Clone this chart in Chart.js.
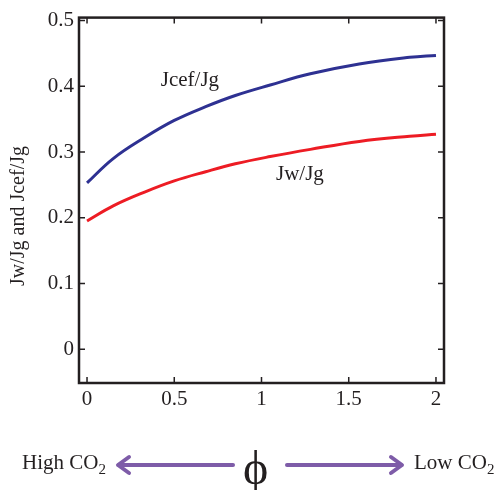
<!DOCTYPE html>
<html>
<head>
<meta charset="utf-8">
<script src="https://cdn.jsdelivr.net/npm/chart.js@4.4.1/dist/chart.umd.min.js"></script>
<style>
  body { margin: 0; background: #fff; }
  #wrap { position: relative; width: 498px; height: 490px; overflow: hidden; font-family: 'Liberation Serif', serif; }
  #bottom { position: absolute; left: 0; top: 440px; width: 498px; height: 50px; color: #231f20; }
  .lbl { position: absolute; font-size: 21px; white-space: nowrap; }
  .lbl sub { font-size: 15px; vertical-align: -5px; line-height: 0; }
  #phi { position: absolute; left: 243px; top: 3px; font-size: 48px; line-height: 50px; }
  svg { position: absolute; left: 0; top: 0; }
</style>
</head>
<body>
<div id="wrap">
  <canvas id="chart" width="498" height="490"></canvas>
  <div id="bottom">
    <svg width="498" height="50">
      <g stroke="#7e5ca8" stroke-width="4" fill="none" stroke-linecap="round" stroke-linejoin="round">
        <line x1="119" y1="25" x2="233" y2="25"/>
        <polyline points="129,17 118,25 129,33"/>
        <line x1="287" y1="25" x2="401" y2="25"/>
        <polyline points="391,17 402,25 391,33"/>
      </g>
    </svg>
    <span class="lbl" style="left:22px;top:10px">High CO<sub>2</sub></span>
    <span id="phi">ϕ</span>
    <span class="lbl" style="left:414px;top:10px">Low CO<sub>2</sub></span>
  </div>
</div>
<script>
// values
const phi = [0, 0.15, 0.33, 0.5, 0.68, 0.85, 1.05, 1.28, 1.56, 1.85, 2.0];
const jcefJg = [0.253, 0.290, 0.322, 0.348, 0.369, 0.386, 0.402, 0.419, 0.434, 0.444, 0.447];
const jwJg = [0.195, 0.218, 0.239, 0.256, 0.270, 0.282, 0.293, 0.304, 0.316, 0.324, 0.327];
const xTicks = [0, 0.5, 1, 1.5, 2];
const yTicks = [0, 0.1, 0.2, 0.3, 0.4, 0.5];

const serif = "'Liberation Serif', 'Times New Roman', serif";
const ink = '#231f20';

const toPoints = (ys) => phi.map((x, i) => ({ x, y: ys[i] }));

const frame = {
  id: 'frame',
  afterDraw(chart) {
    const { ctx, chartArea: a, scales } = chart;
    const xs = scales.x, ys = scales.y;
    ctx.save();
    ctx.strokeStyle = ink;
    ctx.lineWidth = 2.5;
    ctx.strokeRect(a.left, a.top, a.right - a.left, a.bottom - a.top);

    // inward ticks on all four sides
    ctx.lineWidth = 1.5;
    ctx.beginPath();
    xTicks.forEach((v) => {
      const px = xs.getPixelForValue(v);
      ctx.moveTo(px, a.bottom); ctx.lineTo(px, a.bottom - 6);
      ctx.moveTo(px, a.top); ctx.lineTo(px, a.top + 6);
    });
    yTicks.forEach((v) => {
      const py = ys.getPixelForValue(v);
      ctx.moveTo(a.left, py); ctx.lineTo(a.left + 6, py);
      ctx.moveTo(a.right, py); ctx.lineTo(a.right - 6, py);
    });
    ctx.stroke();

    // curve labels
    ctx.fillStyle = ink;
    ctx.font = '21px ' + serif;
    ctx.textAlign = 'center';
    ctx.textBaseline = 'middle';
    ctx.fillText('Jcef/Jg', xs.getPixelForValue(0.59), ys.getPixelForValue(0.409));
    ctx.fillText('Jw/Jg', xs.getPixelForValue(1.22), ys.getPixelForValue(0.266));

    // y axis title
    ctx.translate(19, 216);
    ctx.rotate(-Math.PI / 2);
    ctx.font = '20px ' + serif;
    ctx.fillText('Jw/Jg and Jcef/Jg', 0, 0);
    ctx.restore();
  }
};

new Chart(document.getElementById('chart'), {
  type: 'scatter',
  data: {
    datasets: [
      {
        label: 'Jcef/Jg',
        data: toPoints(jcefJg),
        showLine: true,
        borderColor: '#2e3192',
        borderWidth: 3,
        pointRadius: 0,
        tension: 0.4,
      },
      {
        label: 'Jw/Jg',
        data: toPoints(jwJg),
        showLine: true,
        borderColor: '#ed1c24',
        borderWidth: 3,
        pointRadius: 0,
        tension: 0.4,
      },
    ],
  },
  options: {
    responsive: false,
    animation: false,
    layout: { padding: { top: 16, right: 54, left: 0, bottom: 0 } },
    plugins: { legend: { display: false }, tooltip: { enabled: false } },
    scales: {
      x: {
        type: 'linear',
        min: -0.046,
        max: 2.046,
        afterBuildTicks: (s) => { s.ticks = xTicks.map((v) => ({ value: v })); },
        afterFit: (s) => { s.height = 107; },
        grid: { display: false, drawTicks: false },
        border: { display: false },
        ticks: {
          padding: 4,
          color: ink,
          font: { family: serif, size: 21 },
          callback: (v) => String(v),
        },
      },
      y: {
        type: 'linear',
        min: -0.0515,
        max: 0.5045,
        afterBuildTicks: (s) => { s.ticks = yTicks.map((v) => ({ value: v })); },
        afterFit: (s) => { s.width = 79; },
        grid: { display: false, drawTicks: false },
        border: { display: false },
        ticks: {
          padding: 5,
          color: ink,
          font: { family: serif, size: 21 },
          callback: (v) => String(Math.round(v * 10) / 10),
        },
      },
    },
  },
  plugins: [frame],
});
</script>
</body>
</html>
